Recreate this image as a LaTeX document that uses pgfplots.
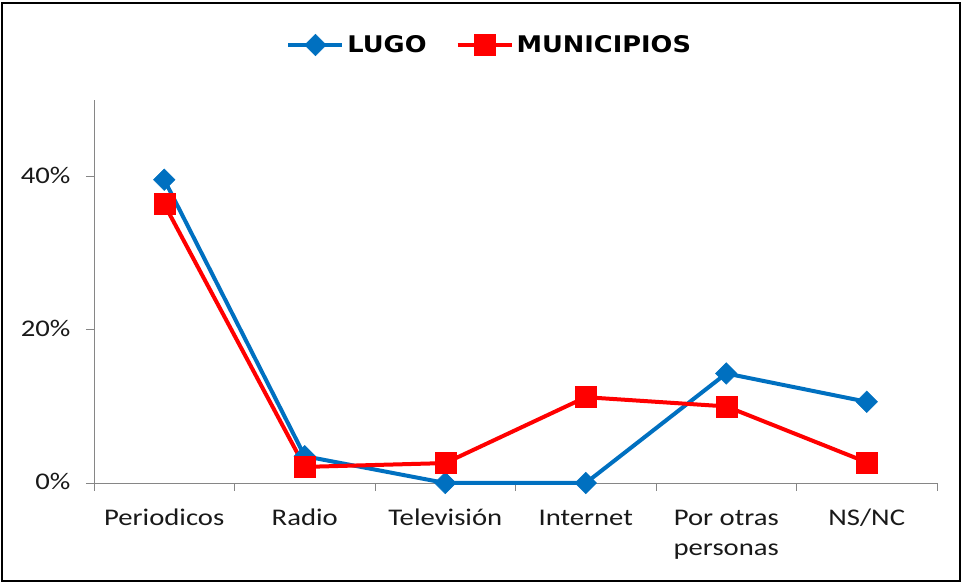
\documentclass[border=0pt]{standalone}
\usepackage{pgfplots}
\pgfplotsset{compat=1.18}
\usepackage{fontspec}
\setmainfont{Carlito}
\newfontfamily\tickfont[FakeStretch=1.2]{Carlito}
\newfontfamily\legfont[FakeStretch=1.12]{DejaVu Sans}
\definecolor{lugo}{RGB}{0,112,192}
\definecolor{muni}{RGB}{255,0,0}
\definecolor{axgray}{RGB}{134,134,134}
\begin{document}
\begin{tikzpicture}[x=1bp,y=1bp]
\useasboundingbox (0,0) rectangle (963,583);
\draw[line width=2bp] (2,2) rectangle (960,580);
\begin{axis}[
  at={(94bp,100bp)}, anchor=south west,
  scale only axis, width=843bp, height=383bp,
  xmin=-0.5, xmax=5.5, ymin=0, ymax=50,
  axis x line*=bottom, axis y line*=left,
  axis line style={axgray, line width=0.8bp},
  every outer x axis line/.append style={-}, every outer y axis line/.append style={-},
  xtick={0,1,2,3,4,5},
  xticklabels={Periodicos,Radio,Televisión,Internet,{Por otras\\personas},NS/NC},
  typeset ticklabels with strut,
  x tick label style={align=center, font=\tickfont\fontsize{24}{30}\selectfont, text=black!90, yshift=-10bp},
  minor xtick={-0.5,0.5,1.5,2.5,3.5,4.5,5.5},
  major x tick style={draw=none},
  minor x tick style={axgray, line width=0.8bp},
  ytick={0,20,40},
  yticklabels={0\%,20\%,40\%},
  y tick label style={font=\tickfont\fontsize{24}{25}\selectfont, text=black!90, xshift=-12bp, yshift=-1.5bp},
  y tick style={axgray, line width=0.8bp},
  tick align=outside,
  major tick length=8bp, minor tick length=8bp,
  /pgf/number format/assume math mode=true,
  clip=false,
  legend columns=2,
  legend style={at={(0.470,1.1436)}, anchor=center, draw=none, fill=none,
    font=\legfont\bfseries\fontsize{23}{25}\selectfont,
    nodes={inner xsep=3bp},
    /tikz/every even column/.append style={column sep=26bp}},
  legend image code/.code={
    \draw[#1, mark repeat=2, mark phase=2] plot coordinates {(0bp,0bp) (27bp,0bp) (54bp,0bp)};
  },
]
\addplot[lugo, line width=4bp, mark=square*, mark size=7.6bp, mark options={solid, fill=lugo, line width=0.5bp, rotate=45}]
  coordinates {(0,39.6) (1,3.5) (2,0) (3,0) (4,14.3) (5,10.6)};
\addlegendentry{LUGO}
\addplot[muni, line width=4bp, mark=square*, mark size=10.5bp, mark options={solid, fill=muni, line width=0.5bp}]
  coordinates {(0,36.4) (1,2.1) (2,2.6) (3,11.2) (4,10.0) (5,2.7)};
\addlegendentry{MUNICIPIOS}
\end{axis}
\end{tikzpicture}
\end{document}
